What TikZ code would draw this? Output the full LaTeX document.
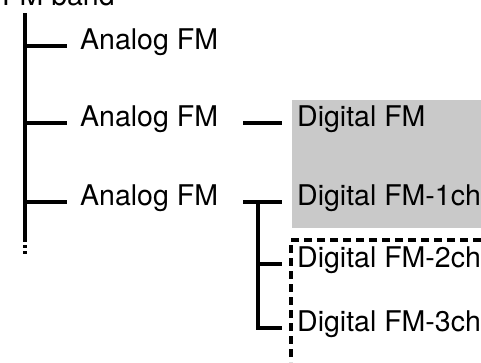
\documentclass[tikz,border=0pt]{standalone}
\usepackage{fontspec}
\setmainfont{TeX Gyre Heros}
\usepackage{tikz}

\tikzset{
  lbl/.style={anchor=west, inner sep=0pt, text height=0.72em, text depth=0pt,
    font=\fontsize{28.5}{31}\selectfont},
  trunk/.style={line width=4pt},
  chbox/.style={line width=3.5pt, dash pattern=on 8pt off 5pt}
}

\begin{document}
\begin{tikzpicture}[x=1pt, y=-1pt]
    \useasboundingbox (0,0) rectangle (481,362);

    % Gray area behind the digital channel
    \fill[gray!42] (292,100) rectangle (481,228);

    % Dashed area for the extra channels
    \draw[chbox] (481,240) -- (291,240) -- (291,362);

    % Heading, cut at the top edge
    \node[lbl, anchor=base west] (band) at (2,5) {FM band};

    % Labels
    \node[lbl] (an1) at (80,46) {Analog FM};
    \node[lbl] (an2) at (80,123) {Analog FM};
    \node[lbl] (an3) at (80,202) {Analog FM};
    \node[lbl] (dg1) at (297,123) {Digital FM};
    \node[lbl] (dg2) at (297,202) {Digital FM-1ch};
    \node[lbl] (dg3) at (297,264) {Digital FM-2ch};
    \node[lbl] (dg4) at (297,328) {Digital FM-3ch};

    % Main line of the band
    \coordinate (top) at (25,13);
    \coordinate (bot) at (25,239);
    \draw[trunk] (top) -- (bot);
    \draw[trunk, dash pattern=on 3pt off 3pt] (bot) -- ++(0,17);

    % Branches to the analog labels
    \draw[trunk] (top |- an1) -- ([xshift=-13pt]an1.west);
    \draw[trunk] (top |- an2) -- ([xshift=-13pt]an2.west);
    \draw[trunk] (top |- an3) -- ([xshift=-13pt]an3.west);

    % Branches to the digital labels
    \draw[trunk] ([xshift=25pt]an2.east) -- ([xshift=-15pt]dg1.west);
    \draw[trunk] ([xshift=25pt]an3.east) -- ([xshift=-15pt]dg2.west);
    \coordinate (fork) at (258,202);
    \draw[trunk] (fork) -- (fork |- dg4) -- ([xshift=-15pt]dg4.west);
    \draw[trunk] (fork |- dg3) -- ([xshift=-15pt]dg3.west);
\end{tikzpicture}
\end{document}
